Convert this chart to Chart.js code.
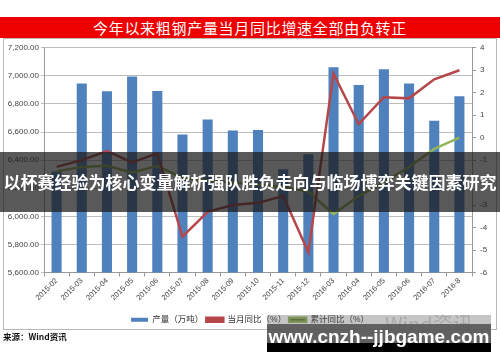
<!DOCTYPE html>
<html>
<head>
<meta charset="utf-8">
<script src="https://cdn.jsdelivr.net/npm/chart.js@4"></script>
<style>
  body { margin: 0; width: 500px; height: 362px; background: #fff; position: relative; overflow: hidden;
         font-family: 'Liberation Sans', 'Noto Sans CJK SC', sans-serif; }
  #title { position: absolute; left: 0; top: 17px; width: 500px; height: 21px; background: #ee0000;
           color: #fff; font: 15px 'Noto Sans CJK SC'; line-height: 21px; text-align: center; letter-spacing: 0.7px; }
  #box { position: absolute; left: 3px; top: 38px; width: 492px; height: 290px; border: 1px solid #b8b8b8; }
  #wrap { position: absolute; left: 0; top: 0; width: 492px; height: 295px; }
  #src { position: absolute; left: 3px; top: 330px; font: bold 8.5px 'Noto Sans CJK SC'; color: #111; }
  #band { position: absolute; left: 0; top: 152px; width: 500px; height: 60px; background: rgba(25,25,25,0.72);
          color: #fff; font: bold 17px 'Noto Sans CJK SC'; line-height: 60px; text-align: center; white-space: nowrap; }
  #wind { position: absolute; left: 385px; top: 309px; font: 20px 'Noto Sans CJK SC'; color: #d4d4d4; }
  #wm { position: absolute; left: 267px; top: 315px; width: 224px; height: 28px;
        background: linear-gradient(to bottom, rgba(90,90,90,0.35) 0, rgba(90,90,90,0.35) 9px, rgba(85,85,85,0.93) 9px);
        color: #fff; font: bold 19px 'Liberation Sans', sans-serif; line-height: 43px; text-align: center; white-space: nowrap; }
  #wmb { position: absolute; left: 267px; top: 343px; width: 224px; height: 9px; background: #000; }
</style>
</head>
<body>
<div id="title">今年以来粗钢产量当月同比增速全部由负转正</div>
<div id="box"><div id="wrap"><canvas id="myChart"></canvas></div></div>
<div id="wind">Wind资讯</div>
<div id="src">来源：Wind资讯</div>
<div id="band">以杯赛经验为核心变量解析强队胜负走向与临场博弈关键因素研究</div>
<div id="wmb"></div>
<div id="wm">www.cnzh--jjbgame.com</div>
<script>
const months = ['2015-02', '2015-03', '2015-04', '2015-05', '2015-06', '2015-07', '2015-08', '2015-09',
                '2015-10', '2015-11', '2015-12', '2016-03', '2016-04', '2016-05', '2016-06', '2016-07', '2016-8'];
// 产量（万吨）
const output = [6320, 6945, 6890, 6995, 6893, 6582, 6690, 6612, 6614, 6335, 6442, 7062, 6935, 7048, 6945, 6680, 6855];
// 当月同比（%）
const monthYoY = [-1.3, -1.0, -0.6, -1.1, -0.7, -4.4, -3.3, -3.0, -2.9, -2.6, -5.1, 2.85, 0.6, 1.8, 1.75, 2.6, 3.0];
// 累计同比（%）
const cumYoY = [-1.5, -1.3, -1.25, -1.55, -1.25, -1.8, -1.9, -2.0, -2.1, -2.2, -2.4, -3.4, -2.6, -2.0, -1.3, -0.5, 0.0];

const leftTicks = [5600, 5800, 6000, 6200, 6400, 6600, 6800, 7000, 7200];
const rightTicks = [-6, -5, -4, -3, -2, -1, 0, 1, 2, 3, 4];

Chart.defaults.font.family = "'Liberation Sans', 'Noto Sans CJK SC', sans-serif";
Chart.defaults.font.size = 8;
Chart.defaults.color = '#444';

const myChart = new Chart(document.getElementById('myChart'), {
    data: {
        labels: months,
        datasets: [
            {
                type: 'bar',
                label: '产量（万吨）',
                data: output,
                yAxisID: 'y',
                backgroundColor: '#4f81bd',
                barPercentage: 0.5,
                categoryPercentage: 0.8,
                order: 3
            },
            {
                type: 'line',
                label: '当月同比（%）',
                data: monthYoY,
                yAxisID: 'y1',
                borderColor: '#b5474a',
                backgroundColor: '#b5474a',
                borderWidth: 2.5,
                pointRadius: 0,
                tension: 0,
                order: 1
            },
            {
                type: 'line',
                label: '累计同比（%）',
                data: cumYoY,
                yAxisID: 'y1',
                borderColor: '#93b45a',
                backgroundColor: '#5e7236',
                borderWidth: 2.5,
                pointRadius: 0,
                tension: 0,
                order: 2
            }
        ]
    },
    options: {
        responsive: true,
        maintainAspectRatio: false,
        animation: false,
        layout: { padding: { top: 7, left: 0, right: 0, bottom: 0 } },
        scales: {
            x: {
                afterFit: s => { s.height = 40; },
                grid: { drawOnChartArea: false, offset: true, tickLength: 4, color: '#999' },
                border: { color: '#999' },
                ticks: { minRotation: 45, maxRotation: 45, font: { size: 7.5 }, padding: 0 }
            },
            y: {
                position: 'left',
                min: 5600,
                max: 7200,
                afterBuildTicks: s => { s.ticks = leftTicks.map(v => ({ value: v })); },
                afterFit: s => { s.width = 40; },
                grid: { color: '#bdbdbd', tickLength: 3 },
                border: { color: '#999' },
                ticks: {
                    padding: 2,
                    callback: v => v.toLocaleString('en-US', { minimumFractionDigits: 2, maximumFractionDigits: 2 })
                }
            },
            y1: {
                position: 'right',
                min: -6,
                max: 4,
                afterBuildTicks: s => { s.ticks = rightTicks.map(v => ({ value: v })); },
                afterFit: s => { s.width = 24; },
                grid: { drawOnChartArea: false, tickLength: 4, color: '#999' },
                border: { color: '#999' },
                ticks: { padding: 4 }
            }
        },
        plugins: {
            legend: {
                position: 'bottom',
                labels: {
                    boxWidth: 17, boxHeight: 4, padding: 3, font: { size: 8.5 }, color: '#333',
                    sort: (a, b) => a.datasetIndex - b.datasetIndex
                }
            },
            title: { display: false },
            tooltip: { enabled: false }
        }
    }
});
</script>
</body>
</html>
